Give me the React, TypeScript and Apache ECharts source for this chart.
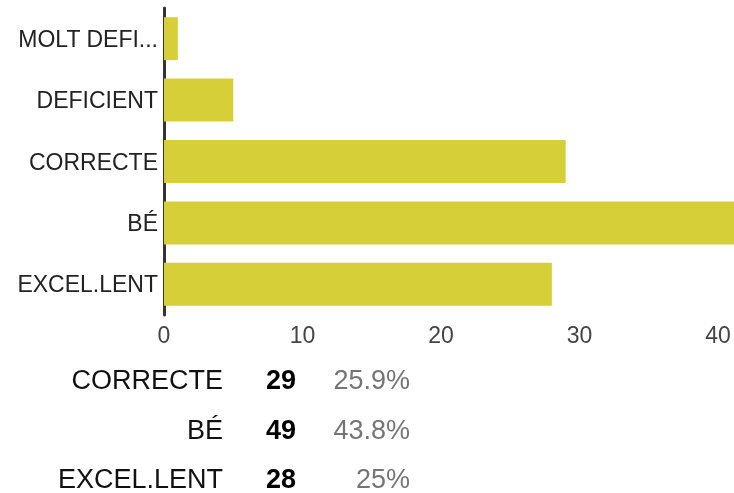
import React, { useEffect, useRef } from "react";
import * as echarts from "echarts";

const categories = ["MOLT DEFICIENT", "DEFICIENT", "CORRECTE", "BÉ", "EXCEL.LENT"];
const counts = [1, 5, 29, 49, 28];
const tableLabels = ["CORRECTE", "BÉ", "EXCEL.LENT"];
const tableCounts = ["29", "49", "28"];
const tablePercents = ["25.9%", "43.8%", "25%"];

const FONT = "'Liberation Sans', Arial, sans-serif";

export default function App() {
  const ref = useRef<HTMLDivElement>(null);
  useEffect(() => {
    document.body.style.margin = "0";
    document.body.style.overflow = "hidden";
    const chart = echarts.init(ref.current!, null, { renderer: "svg" });
    const rowY = [380, 430, 479];
    const graphic: any[] = [];
    tableLabels.forEach((lab, i) => {
      graphic.push({
        type: "text",
        x: 223,
        y: rowY[i],
        style: { text: lab, fill: "#111", font: `27px ${FONT}`, textAlign: "right", textVerticalAlign: "middle" },
      });
      graphic.push({
        type: "text",
        x: 296,
        y: rowY[i],
        style: { text: tableCounts[i], fill: "#000", font: `bold 27px ${FONT}`, textAlign: "right", textVerticalAlign: "middle" },
      });
      graphic.push({
        type: "text",
        x: 410,
        y: rowY[i],
        style: { text: tablePercents[i], fill: "#757575", font: `27px ${FONT}`, textAlign: "right", textVerticalAlign: "middle" },
      });
    });
    chart.setOption({
      animation: false,
      grid: { left: 164, right: -2, top: 8, bottom: 178, containLabel: false },
      xAxis: {
        type: "value",
        min: 0,
        max: 41.15,
        interval: 10,
        axisLine: { show: false },
        axisTick: { show: false },
        splitLine: { show: false },
        axisLabel: {
          showMaxLabel: false,
          color: "#444",
          fontSize: 23,
          fontFamily: FONT,
          margin: 8,
        },
      },
      yAxis: {
        type: "category",
        inverse: true,
        data: categories,
        axisLine: { show: true, lineStyle: { color: "#333", width: 3 } },
        axisTick: { show: false },
        axisLabel: {
          color: "#222",
          fontSize: 23,
          fontFamily: FONT,
          margin: 6,
          width: 150,
          overflow: "truncate",
          ellipsis: "...",
        },
      },
      series: [
        {
          type: "bar",
          data: counts,
          barCategoryGap: "30%",
          clip: true,
          itemStyle: { color: "#d7cf38" },
        },
      ],
      graphic,
    });
    return () => chart.dispose();
  }, []);
  return <div ref={ref} style={{ position: "fixed", left: 0, top: 0, width: 734, height: 493 }} />;
}
